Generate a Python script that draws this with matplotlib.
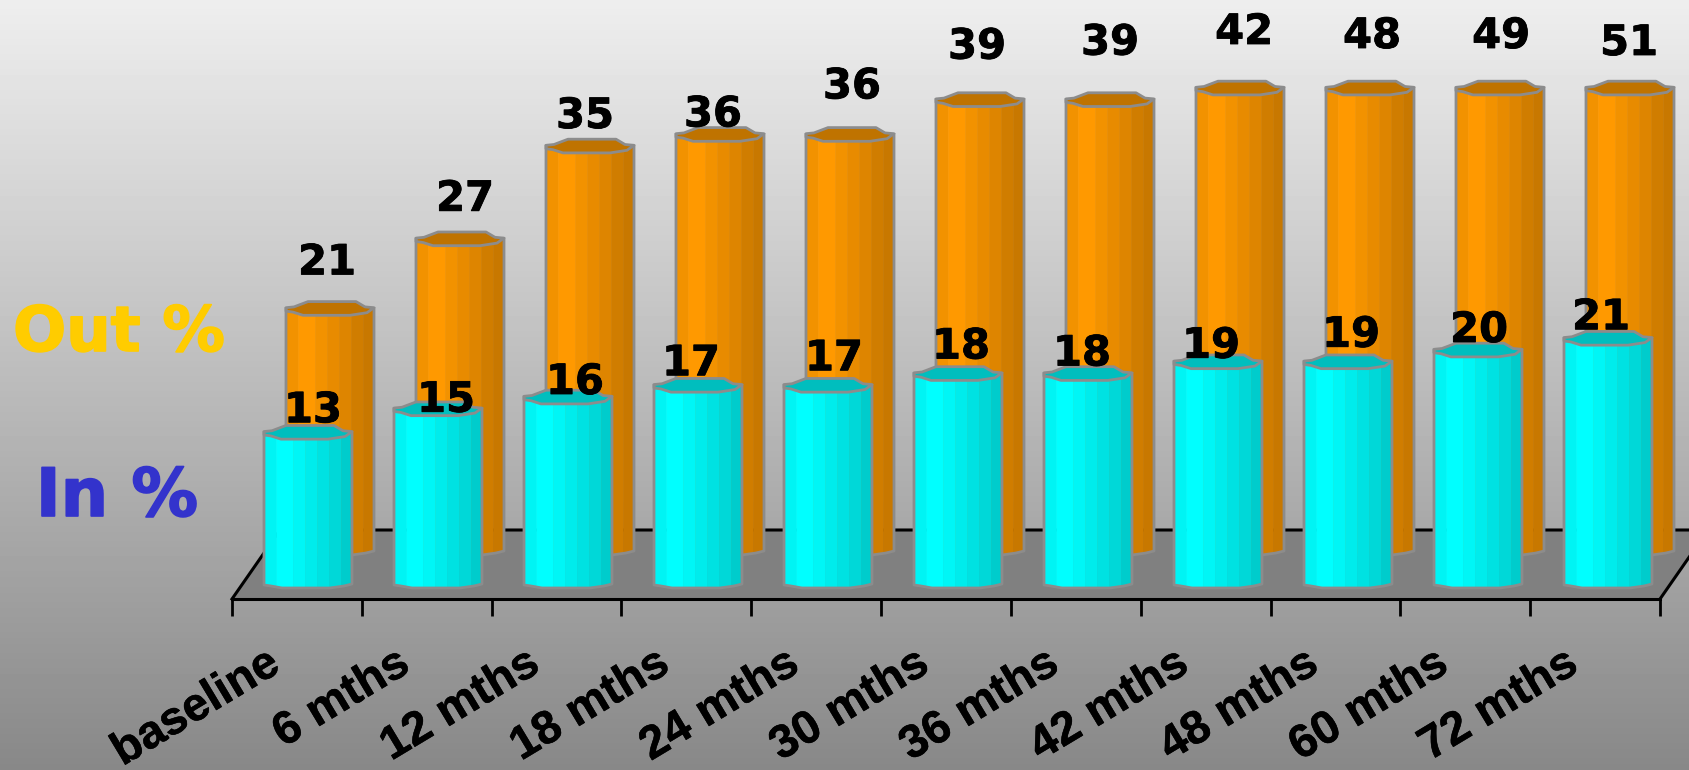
import numpy as np
import matplotlib
matplotlib.use("Agg")
import matplotlib.pyplot as plt
import matplotlib.patheffects as pe
from matplotlib.patches import Polygon
from matplotlib.transforms import ScaledTranslation

# data
categories = ["baseline", "6 mths", "12 mths", "18 mths", "24 mths", "30 mths",
              "36 mths", "42 mths", "48 mths", "60 mths", "72 mths"]
out_pct = [21, 27, 35, 36, 36, 39, 39, 42, 48, 49, 51]
in_pct = [13, 15, 16, 17, 17, 18, 18, 19, 19, 20, 21]
Y_MAX = 40  # value axis stops here, taller columns get cut flat

# hand placed value labels, offset in pixels from the column top
out_dx = [-3, 5, -5, -7, 2, -3, 0, 4, 2, 1, -1]
out_dy = [46, 40, 30, 20, 48, 53, 57, 56, 52, 52, 45]
in_dx = [5, 8, 7, -7, 6, 3, -6, -7, 3, 1, -7]
in_dy = [22, 9, 15, 22, 27, 27, 20, 16, 27, 20, 21]

W, H = 1690, 770
EDGE = "#8c8c8c"

# cylinder outline in pixels around the column centre
CAP_X = [-44, -36, -22, 26, 35, 44, 37, 20, -27, -37, -44]
CAP_Y = [0.7, 1.5, 6.8, 6.8, 1.5, 0.7, -4.3, -6.9, -6.9, -3.7, -2.7]
FOOT_X = [-44, -37, -26, 22, 36, 44]
FOOT_Y = [0, -1, -3, -3, -1, 1]
STRIP_X = [-44, -32, -15, -3, 9, 21, 33, 44]

CYAN_STRIPS = ["#00f4f4", "#00ffff", "#00f6f6", "#00ecec", "#00e2e2", "#00d8d8", "#00cccc"]
ORANGE_STRIPS = ["#f29200", "#ff9900", "#f29200", "#e88b00", "#de8500", "#d07d00", "#c87800"]


def px_axes(fig, left, top, right, bottom, zorder):
    ax = fig.add_axes([left / W, 1 - bottom / H, (right - left) / W, (bottom - top) / H],
                      zorder=zorder)
    ax.patch.set_visible(False)
    return ax


def heavy(width, color):
    return [pe.withStroke(linewidth=width, foreground=color)]


def draw_columns(ax, values, strips, cap_color, dxs, dys, px_per_unit):
    ax.set_xlim(-0.5, 10.5)
    ax.set_ylim(0, Y_MAX)
    ax.axis("off")
    px_per_cat = 130.0
    for i, v in enumerate(values):
        top = min(v, Y_MAX)
        sx = np.array(STRIP_X, dtype=float)
        foot = np.interp(sx, FOOT_X, FOOT_Y) / px_per_unit
        for k, c in enumerate(strips):
            xs = i + sx[k:k + 2] / px_per_cat
            ax.fill_between(xs, foot[k:k + 2], [top, top], color=c, lw=0.4, clip_on=False)
        # outline of the body
        fx = i + np.array(FOOT_X) / px_per_cat
        fy = np.array(FOOT_Y) / px_per_unit
        ax.plot(np.r_[fx[0], fx, fx[-1]], np.r_[top, fy, top], color=EDGE, lw=2.0,
                clip_on=False, solid_joinstyle="round")
        cap = np.c_[i + np.array(CAP_X) / px_per_cat, top + np.array(CAP_Y) / px_per_unit]
        ax.add_patch(Polygon(cap, closed=True, fc=cap_color, ec=EDGE, lw=2.0, clip_on=False,
                             joinstyle="round"))
        ax.annotate(str(v), xy=(i, top), xytext=(dxs[i], dys[i]), textcoords="offset pixels",
                    ha="center", va="center", fontsize=30, fontweight="bold", color="black",
                    family="DejaVu Sans", annotation_clip=False, zorder=10,
                    path_effects=heavy(0.6, "black"))


fig = plt.figure(figsize=(W / 100, H / 100), dpi=100)

# background gradient
bg = fig.add_axes([0, 0, 1, 1], zorder=0)
grad = np.linspace(238, 136, 256)[:, None] / 255
bg.imshow(grad, cmap="gray", vmin=0, vmax=1, aspect="auto", extent=[0, 1, 0, 1])
bg.axis("off")

# floor with the category axis along its front edge
floor = px_axes(fig, 232, 530, 1660, 599, 1)
skew = 48 / (1660 - 232)
floor.add_patch(Polygon([(0, 0), (1, 0), (1 + skew, 1), (skew, 1)], closed=True,
                        transform=floor.transAxes, fc="#808080", ec="none", clip_on=False))
floor.plot([0, skew, 1 + skew, 1], [0, 1, 1, 0], transform=floor.transAxes, color="black",
           lw=2.2, clip_on=False)
floor.set_xlim(-0.5, 10.5)
floor.set_ylim(0, 1)
for s in ["top", "left", "right"]:
    floor.spines[s].set_visible(False)
floor.spines["bottom"].set_linewidth(2.2)
floor.set_yticks([])
floor.set_xticks(range(len(categories)))
floor.set_xticks(np.arange(-0.5, 11), minor=True)
floor.tick_params(axis="x", which="minor", length=12, width=2.0, color="black")
floor.tick_params(axis="x", which="major", length=0, pad=44)
floor.set_xticklabels(categories, rotation=31, ha="right", va="center", rotation_mode="anchor",
                      fontsize=33.5, fontweight="bold", family="Liberation Sans")
shift = ScaledTranslation(-15 / 72, 0, fig.dpi_scale_trans)
for lab in floor.get_xticklabels():
    lab.set_transform(lab.get_transform() + shift)
    lab.set_path_effects(heavy(0.4, "black"))

# back row sits one depth step behind the front row
ax_out = px_axes(fig, 265, 88, 1695, 552, 2)
draw_columns(ax_out, out_pct, ORANGE_STRIPS, "#bf7300", out_dx, out_dy, 11.6)
ax_in = px_axes(fig, 243, 115, 1673, 585, 3)
draw_columns(ax_in, in_pct, CYAN_STRIPS, "#00bebe", in_dx, in_dy, 11.75)

# series names on the left
fig.text(119 / W, 1 - 334 / H, "Out %", color="#ffcc00", fontsize=45, fontweight="bold",
         family="DejaVu Sans", ha="center", va="center", zorder=5,
         path_effects=heavy(1.2, "#ffcc00"))
fig.text(117 / W, 1 - 497 / H, "In %", color="#3333cc", fontsize=48, fontweight="bold",
         family="DejaVu Sans", ha="center", va="center", zorder=5,
         path_effects=heavy(1.2, "#3333cc"))

fig.savefig("out.png", dpi=100)
